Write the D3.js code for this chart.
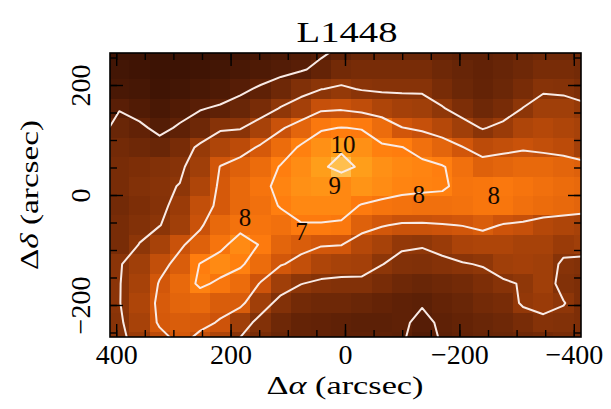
<!DOCTYPE html>
<html>
<head>
<meta charset="utf-8">
<script src="https://cdn.jsdelivr.net/npm/d3@7"></script>
<style>
  body { margin: 0; background: #fff; }
  text { font-family: "Liberation Serif", "DejaVu Serif", serif; }
</style>
</head>
<body>
<script>
// map grid: 24 columns (Δα) x 16 rows (Δδ), centres in arcsec
var nCols = 24, nRows = 16;
var colStart = 394.65, colStep = -35.3;
var rowStart = 263.7, rowStep = -35.4;

// intensity, one array per row, top (Δδ = +264) to bottom (Δδ = -267)
var r00 = [4.0, 4.0, 3.9, 3.9, 3.9, 4.0, 4.1, 4.3, 4.5, 4.7, 4.85, 5.1, 5.3, 5.3, 5.3, 5.3, 5.2, 5.1, 5.1, 5.2, 5.3, 5.4, 5.4, 5.4];
var r01 = [4.2, 4.1, 4.0, 4.0, 4.1, 4.2, 4.4, 4.6, 4.75, 4.92, 5.2, 5.5, 5.6, 5.6, 5.6, 5.6, 5.4, 5.25, 5.15, 5.25, 5.4, 5.6, 5.6, 5.5];
var r02 = [4.4, 4.3, 4.1, 4.2, 4.4, 4.6, 4.85, 5.1, 5.4, 5.75, 5.98, 6.12, 5.95, 5.9, 5.9, 5.9, 5.6, 5.35, 5.2, 5.35, 5.6, 5.9, 5.85, 5.7];
var r03 = [4.95, 4.7, 4.4, 4.7, 4.95, 5.1, 5.3, 5.6, 6.05, 6.35, 6.85, 6.9, 6.75, 6.5, 6.35, 6.3, 6.05, 5.7, 5.4, 5.6, 6.02, 6.3, 6.3, 6.15];
var r04 = [5.3, 5.15, 4.8, 5.1, 5.4, 5.9, 5.95, 6.4, 6.9, 7.4, 7.9, 8.02, 7.95, 7.6, 7.02, 6.85, 6.6, 6.3, 5.95, 6.2, 6.5, 6.6, 6.5, 6.4];
var r05 = [5.5, 5.4, 5.3, 5.6, 6.15, 6.5, 6.7, 7.1, 7.6, 8.1, 8.5, 8.85, 8.5, 8.1, 8.02, 7.7, 7.4, 7.02, 6.7, 6.8, 6.9, 6.8, 6.7, 6.35];
var r06 = [5.6, 5.7, 5.8, 5.9, 6.3, 7.02, 7.3, 7.6, 8.05, 8.4, 8.85, 9.3, 8.85, 8.5, 8.3, 8.2, 8.05, 7.7, 7.3, 7.4, 7.5, 7.5, 7.4, 7.3];
var r07 = [5.6, 5.8, 5.9, 6.02, 6.5, 7.1, 7.5, 7.8, 8.2, 8.5, 8.6, 8.3, 8.6, 8.4, 8.2, 8.15, 8.1, 7.8, 7.85, 7.9, 7.8, 7.7, 7.6, 7.5];
var r08 = [5.5, 5.7, 5.85, 6.2, 6.8, 7.1, 7.5, 7.7, 8.05, 8.3, 8.3, 8.3, 7.95, 7.8, 7.75, 7.7, 7.7, 7.75, 7.85, 7.85, 7.7, 7.6, 7.5, 7.4];
var r09 = [5.6, 5.8, 5.98, 6.3, 6.9, 7.5, 7.75, 7.8, 7.7, 7.95, 7.95, 7.9, 7.3, 7.05, 6.9, 6.9, 6.95, 7.02, 7.2, 6.95, 6.85, 6.6, 6.5, 6.4];
var r10 = [5.6, 6.02, 6.4, 6.9, 7.3, 7.8, 8.35, 7.95, 7.4, 7.2, 7.05, 7.02, 6.6, 6.4, 6.1, 6.05, 6.2, 6.45, 6.5, 6.5, 6.4, 6.4, 6.2, 6.3];
var r11 = [5.95, 6.3, 6.8, 7.2, 8.03, 8.35, 8.1, 7.6, 7.05, 6.8, 6.5, 6.4, 6.35, 6.02, 5.8, 5.75, 5.85, 5.95, 6.05, 6.3, 6.35, 6.3, 5.9, 5.8];
var r12 = [5.97, 6.4, 7.05, 7.5, 8.15, 7.85, 7.6, 6.95, 6.3, 6.02, 5.85, 5.8, 5.8, 5.6, 5.4, 5.3, 5.4, 5.5, 5.7, 5.9, 6.05, 6.3, 5.8, 5.7];
var r13 = [5.97, 6.5, 7.15, 7.4, 7.5, 7.2, 7.2, 6.3, 5.8, 5.5, 5.4, 5.4, 5.3, 5.2, 5.1, 5.05, 5.2, 5.3, 5.5, 5.6, 6.1, 6.2, 6.03, 5.7];
var r14 = [5.9, 6.4, 7.1, 7.2, 7.15, 6.95, 6.3, 5.8, 5.4, 5.2, 5.15, 5.1, 5.05, 5.05, 5.1, 4.85, 5.1, 5.2, 5.3, 5.4, 5.6, 5.85, 5.8, 5.7];
var r15 = [5.85, 6.2, 6.7, 7.1, 6.8, 6.5, 5.9, 5.6, 5.3, 5.2, 5.15, 5.1, 5.1, 5.1, 5.05, 4.7, 5.05, 5.15, 5.25, 5.3, 5.4, 5.5, 5.6, 5.5];
var rows = [r00, r01, r02, r03, r04, r05, r06, r07, r08, r09, r10, r11, r12, r13, r14, r15];

var levels = [5, 6, 7, 8, 9];

// contour labels
var labelText = ["10", "9", "8", "8", "8", "7"];
var labelX = [3.5, 18, -129, -260, 175, 76];
var labelY = [92.7, 18, 1.8, 0, -41, -67];

var xMajor = [400, 200, 0, -200, -400];
var xMinor = [400, 350, 300, 250, 200, 150, 100, 50, 0, -50, -100, -150, -200, -250, -300, -350, -400];
var yMajor = [200, 0, -200];
var yMinor = [250, 200, 150, 100, 50, 0, -50, -100, -150, -200, -250];

var svg = d3.select("body").append("svg")
    .attr("width", 611)
    .attr("height", 409);

var x = d3.scaleLinear().domain([410.8, -412.6]).range([110, 581]);
var y = d3.scaleLinear().domain([258.2, -258.2]).range([53, 337]);

var color = d3.scaleLinear()
    .domain([3.9, 5, 6, 7, 8, 9, 9.4])
    .range(["#3a1204", "#5a1f06", "#8c3508", "#d0550a", "#ff7c0e", "#ffa41c", "#ffc860"])
    .clamp(true);

svg.append("clipPath").attr("id", "frame")
    .append("rect")
    .attr("x", 110).attr("y", 53)
    .attr("width", 471).attr("height", 284);

var map = svg.append("g").attr("clip-path", "url(#frame)");

// pixels of the map
var cells = [];
rows.forEach(function (row, j) {
    row.forEach(function (v, i) { cells.push({ i: i, j: j, v: v }); });
});

map.selectAll("rect.cell")
    .data(cells)
    .join("rect")
    .attr("class", "cell")
    .attr("x", function (d) { return x(colStart + d.i * colStep - colStep / 2); })
    .attr("width", function (d) { return x(colStart + d.i * colStep + colStep / 2) - x(colStart + d.i * colStep - colStep / 2); })
    .attr("y", function (d) { return y(rowStart + d.j * rowStep - rowStep / 2); })
    .attr("height", function (d) { return y(rowStart + d.j * rowStep + rowStep / 2) - y(rowStart + d.j * rowStep - rowStep / 2); })
    .attr("fill", function (d) { return color(d.v); })
    .attr("shape-rendering", "crispEdges");

// contours
var flat = [].concat.apply([], rows);
var contours = d3.contours().size([nCols, nRows]).thresholds(levels)(flat);

var toPlot = d3.geoTransform({
    point: function (gx, gy) {
        this.stream.point(x(colStart + (gx - 0.5) * colStep), y(rowStart + (gy - 0.5) * rowStep));
    }
});

map.selectAll("path.contour")
    .data(contours)
    .join("path")
    .attr("class", "contour")
    .attr("d", d3.geoPath(toPlot))
    .attr("fill", "none")
    .attr("stroke", "#f9ebe6")
    .attr("stroke-width", 2)
    .attr("stroke-linejoin", "round");

// contour labels
map.selectAll("text.lab")
    .data(labelText)
    .join("text")
    .attr("class", "lab")
    .attr("x", function (d, k) { return x(labelX[k]); })
    .attr("y", function (d, k) { return y(labelY[k]); })
    .attr("dy", "0.34em")
    .attr("text-anchor", "middle")
    .style("font-size", "25px")
    .attr("fill", "#150800")
    .text(function (d) { return d; });

// ticks on all four sides, pointing inward
function ticks(axis, tx, ty, values, size) {
    var g = svg.append("g")
        .attr("transform", "translate(" + tx + "," + ty + ")")
        .call(axis.tickValues(values).tickSize(size).tickFormat(""));
    g.select(".domain").remove();
    g.selectAll("line").attr("stroke", "#000").attr("stroke-width", 1.4);
}
ticks(d3.axisBottom(x), 0, 53, xMinor, 7);
ticks(d3.axisBottom(x), 0, 53, xMajor, 13);
ticks(d3.axisTop(x), 0, 337, xMinor, 7);
ticks(d3.axisTop(x), 0, 337, xMajor, 13);
ticks(d3.axisRight(y), 110, 0, yMinor, 7);
ticks(d3.axisRight(y), 110, 0, yMajor, 13);
ticks(d3.axisLeft(y), 581, 0, yMinor, 7);
ticks(d3.axisLeft(y), 581, 0, yMajor, 13);

// tick labels
var xl = svg.append("g")
    .attr("transform", "translate(0,337)")
    .call(d3.axisBottom(x).tickValues(xMajor).tickSize(0).tickPadding(7));
xl.select(".domain").remove();
xl.selectAll("text")
    .style("font-family", "'Liberation Serif', serif")
    .style("font-size", "28px")
    .attr("fill", "#000");

var yl = svg.append("g")
    .attr("transform", "translate(110,0)")
    .call(d3.axisLeft(y).tickValues(yMajor).tickSize(0));
yl.select(".domain").remove();
yl.selectAll("text")
    .attr("x", 0).attr("y", 0).attr("dy", 0)
    .attr("text-anchor", "middle")
    .attr("transform", "translate(-20,0) rotate(-90)")
    .style("font-family", "'Liberation Serif', serif")
    .style("font-size", "28px")
    .attr("fill", "#000");

// frame
svg.append("rect")
    .attr("x", 110).attr("y", 53)
    .attr("width", 471).attr("height", 284)
    .attr("fill", "none")
    .attr("stroke", "#000")
    .attr("stroke-width", 1.6);

// title
svg.append("text")
    .attr("x", 347).attr("y", 42)
    .attr("text-anchor", "middle")
    .attr("textLength", 101)
    .attr("lengthAdjust", "spacingAndGlyphs")
    .style("font-size", "30px")
    .text("L1448");

// X label
var xt = svg.append("text")
    .attr("x", 345).attr("y", 394)
    .attr("text-anchor", "middle")
    .attr("textLength", 157)
    .attr("lengthAdjust", "spacingAndGlyphs")
    .style("font-size", "26px");
xt.append("tspan").text("Δ");
xt.append("tspan").style("font-style", "italic").text("α");
xt.append("tspan").text(" (arcsec)");

// Y label
var yt = svg.append("text")
    .attr("transform", "translate(38,195) rotate(-90)")
    .attr("text-anchor", "middle")
    .attr("textLength", 150)
    .attr("lengthAdjust", "spacingAndGlyphs")
    .style("font-size", "26px");
yt.append("tspan").text("Δ");
yt.append("tspan").style("font-style", "italic").text("δ");
yt.append("tspan").text(" (arcsec)");
</script>
</body>
</html>
